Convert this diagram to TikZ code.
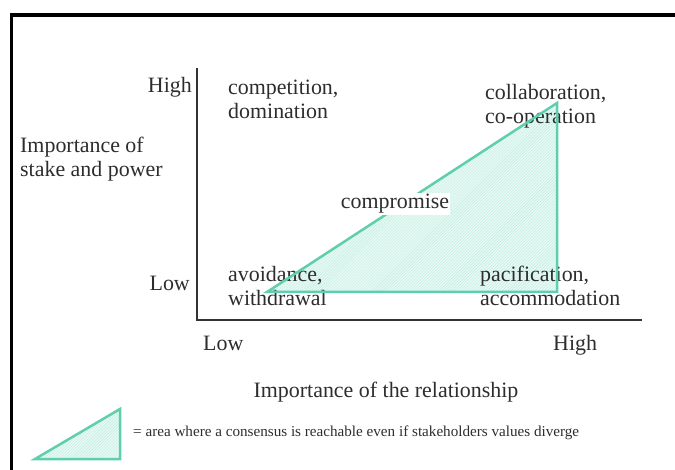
\documentclass[tikz,border=0pt]{standalone}
\usepackage{fontspec}
\setmainfont{Liberation Serif}
\usetikzlibrary{patterns}
\definecolor{tealline}{RGB}{95,206,172}
\definecolor{tealfill}{RGB}{232,250,245}
\definecolor{tealhatch}{RGB}{190,236,222}
\definecolor{txt}{RGB}{45,45,45}
\begin{document}
\begin{tikzpicture}[x=1bp,y=-1bp,
  lbl/.style={inner sep=0pt, font=\fontsize{22}{25}\selectfont, text=txt, align=left},
  small/.style={inner sep=0pt, font=\fontsize{15.2}{17}\selectfont, text=txt},
  frame/.style={line width=3.5bp, black},
  axis/.style={line width=2.5bp, black!80},
  areafill/.style={fill=tealfill},
  areahatch/.style={pattern=north east lines, pattern color=tealhatch},
  arealine/.style={draw=tealline, line width=2.5bp, line join=miter}]
\useasboundingbox (0,0) rectangle (675,470);
% frame
\coordinate (fbl) at (11.5,480);
\coordinate (ftl) at (11.5,15);
\coordinate (ftr) at (690,15);
\draw[frame] (fbl) -- (ftl) -- (ftr);
% axes
\coordinate (ytop) at (197,68);
\coordinate (org) at (197,320);
\coordinate (xend) at (642,320);
\draw[axis] (ytop) -- (org) -- (xend);
% triangle area
\coordinate (ta) at (267,292);
\coordinate (tb) at (557,103);
\coordinate (tc) at (557,292);
\fill[areafill] (ta) -- (tb) -- (tc) -- cycle;
\fill[areahatch] (ta) -- (tb) -- (tc) -- cycle;
% labels (multi-line nodes: base = baseline of last line)
\node[lbl, anchor=base east] (yhigh) at (192,93) {High};
\node[lbl, anchor=base east] (ylow) at (190,291) {Low};
\node[lbl, anchor=base west] (ylab) at (20,177) {Importance of\\stake and power};
\node[lbl, anchor=base west] (comp) at (228,119) {competition,\\domination};
\node[lbl, anchor=base west] (coll) at (485,124) {collaboration,\\co-operation};
\node[lbl, anchor=base west] (avoid) at (228,306) {avoidance,\\withdrawal};
\node[lbl, anchor=base west] (pacif) at (480,306) {pacification,\\accommodation};
\node[lbl, anchor=base west] (xlow) at (203,350) {Low};
\node[lbl, anchor=base west] (xhigh) at (553,350) {High};
\node[lbl, anchor=base] (xlab) at (386,397) {Importance of the relationship};
\draw[arealine] (ta) -- (tb) -- (tc) -- cycle;
\node[lbl, anchor=base, fill=white, inner sep=1bp] (compro) at (395,209) {compromise};
% legend
\coordinate (la) at (35,459);
\coordinate (lb) at (120,409);
\coordinate (lc) at (120,459);
\fill[areafill] (la) -- (lb) -- (lc) -- cycle;
\fill[areahatch] (la) -- (lb) -- (lc) -- cycle;
\draw[arealine] (la) -- (lb) -- (lc) -- cycle;
\node[small, anchor=base west] (legtxt) at (133,436) {= area where a consensus is reachable even if stakeholders values diverge};
\end{tikzpicture}
\end{document}
